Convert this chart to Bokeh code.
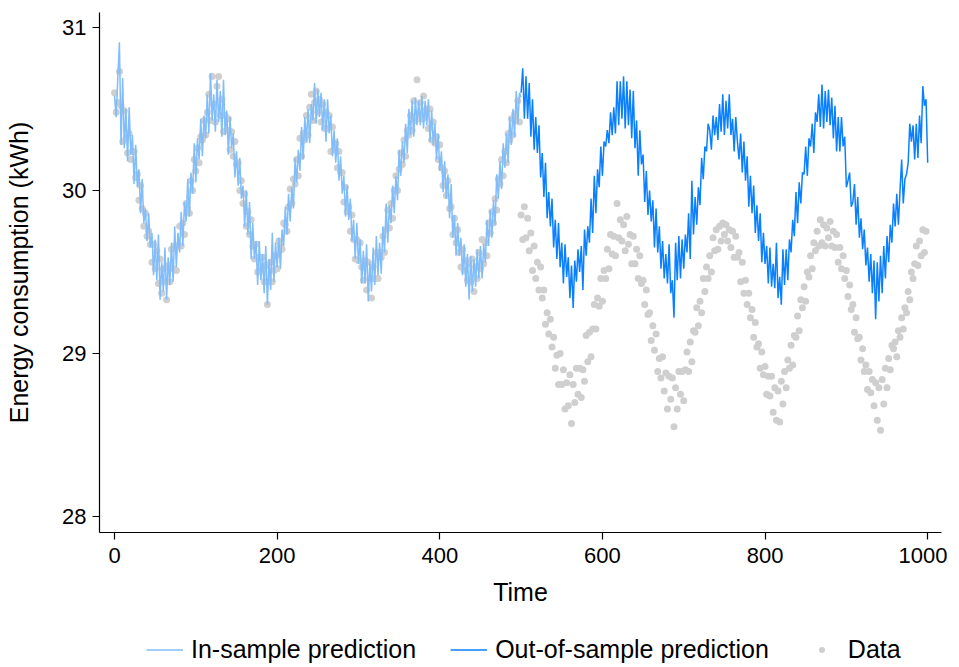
from bokeh.plotting import figure
from bokeh.layouts import column
from bokeh.models import Range1d, FixedTicker, Legend, LegendItem, ColumnDataSource
from bokeh.embed import file_html
from bokeh.resources import INLINE

# ---------------- data ----------------
x_ticks = [0, 200, 400, 600, 800, 1000]
y_ticks = [28, 29, 30, 31]

t_in = list(range(0, 501, 2))
pred_in = [
    30.58, 30.45, 30.69, 30.91, 30.28, 30.69, 30.26, 30.50, 30.18, 30.51,
    30.22, 30.34, 30.04, 30.28, 30.02, 30.13, 29.86, 30.07, 29.80, 29.89,
    29.69, 29.86, 29.65, 29.74, 29.48, 29.70, 29.45, 29.73, 29.33, 29.56,
    29.38, 29.65, 29.33, 29.59, 29.42, 29.68, 29.44, 29.78, 29.53, 29.74,
    29.62, 29.87, 29.66, 29.93, 29.81, 30.07, 29.84, 30.11, 29.98, 30.29,
    30.05, 30.32, 30.19, 30.44, 30.21, 30.46, 30.32, 30.59, 30.35, 30.72,
    30.43, 30.59, 30.36,
    30.68, 30.42, 30.61, 30.33, 30.68, 30.34, 30.49, 30.22, 30.45, 30.26,
    30.35, 30.08, 30.24, 30.03, 30.20, 29.95, 30.03, 29.78, 30.00, 29.73,
    29.93, 29.58, 29.80, 29.58, 29.69, 29.42, 29.69, 29.45, 29.61, 29.37,
    29.66, 29.30, 29.58, 29.39, 29.74, 29.44, 29.68, 29.53, 29.71, 29.52,
    29.76, 29.66, 29.90, 29.73, 29.98, 29.81, 30.02, 29.89, 30.20, 30.05,
    30.25, 30.12, 30.39, 30.19, 30.45, 30.30, 30.50, 30.29, 30.53, 30.43,
    30.66, 30.41, 30.62,
    30.45, 30.60, 30.37, 30.56, 30.30, 30.56, 30.35, 30.46, 30.21, 30.37,
    30.17, 30.32, 30.06, 30.21, 29.98, 30.09, 29.84, 30.03, 29.82, 29.95,
    29.69, 29.82, 29.58, 29.80, 29.55, 29.70, 29.43, 29.63, 29.43, 29.67,
    29.32, 29.56, 29.38, 29.65, 29.42, 29.72, 29.48, 29.68, 29.49, 29.78,
    29.62, 29.92, 29.68, 29.91, 29.80, 30.03, 29.86, 30.09, 29.94, 30.25,
    30.09, 30.30, 30.17, 30.41, 30.23, 30.50, 30.34, 30.55, 30.33, 30.57,
    30.40, 30.55, 30.40,
    30.58, 30.38, 30.55, 30.40, 30.56, 30.30, 30.49, 30.28, 30.41, 30.19,
    30.35, 30.12, 30.24, 29.99, 30.18, 29.95, 30.10, 29.83, 30.04, 29.71,
    29.85, 29.60, 29.80, 29.60, 29.71, 29.48, 29.67, 29.41, 29.61, 29.33,
    29.60, 29.38, 29.58, 29.41, 29.64, 29.46, 29.66, 29.46, 29.67, 29.56,
    29.82, 29.66, 29.88, 29.71, 29.94, 29.79, 30.10, 29.95, 30.18, 30.01,
    30.29, 30.14, 30.35, 30.17, 30.45, 30.28, 30.50, 30.33, 30.61, 30.41,
    30.60, 30.57,
]

t_out = list(range(500, 1001, 2))
pred_out = [
    30.60, 30.75, 30.44, 30.70, 30.44, 30.66, 30.33, 30.56, 30.25, 30.45,
    30.23, 30.40, 30.08, 30.23, 29.96, 30.17, 29.83, 29.99, 29.78, 29.95,
    29.65, 29.82, 29.58, 29.80, 29.53, 29.68, 29.43, 29.67, 29.47, 29.59,
    29.34, 29.54, 29.28, 29.57, 29.44, 29.64, 29.50, 29.66, 29.39, 29.76,
    29.60, 29.78, 29.68, 29.95, 29.74, 30.09, 29.86, 30.13, 30.02, 30.27,
    30.09, 30.30, 30.27, 30.37, 30.29, 30.48, 30.34, 30.51, 30.35, 30.67,
    30.40, 30.67, 30.44,
    30.70, 30.38, 30.67, 30.40, 30.62, 30.32, 30.61, 30.26, 30.43, 30.09,
    30.37, 30.16, 30.22, 29.93, 30.12, 29.85, 30.00, 29.81, 29.94, 29.65,
    29.89, 29.62, 29.78, 29.52, 29.69, 29.46, 29.61, 29.43, 29.67, 29.37,
    29.45, 29.22, 29.68, 29.45, 29.72, 29.46, 29.70, 29.52, 29.73, 29.62,
    29.86, 29.58, 30.06, 29.73, 29.96, 29.79, 30.02, 29.91, 30.20, 30.07,
    30.27, 30.24, 30.41, 30.37, 30.25, 30.46, 30.34, 30.45, 30.31, 30.53,
    30.36, 30.59, 30.34,
    30.55, 30.38, 30.59, 30.34, 30.44, 30.24, 30.45, 30.30, 30.19, 30.35,
    30.11, 30.30, 30.06, 30.21, 29.90, 30.09, 29.86, 30.03, 29.74, 29.91,
    29.69, 29.86, 29.56, 29.74, 29.55, 29.66, 29.43, 29.65, 29.41, 29.55,
    29.40, 29.68, 29.34, 29.47, 29.30, 29.64, 29.42, 29.64, 29.45, 29.70,
    29.62, 29.82, 29.72, 29.99, 29.80, 30.05, 29.92, 30.11, 30.10, 30.27,
    30.09, 30.32, 30.27, 30.41, 30.23, 30.48, 30.42, 30.59, 30.39, 30.65,
    30.38, 30.61, 30.42,
    30.62, 30.40, 30.57, 30.32, 30.52, 30.24, 30.45, 30.24, 30.45, 30.27,
    30.33, 30.02, 30.06, 30.11, 29.90, 29.93, 30.04, 29.79, 29.96, 29.71,
    29.83, 29.64, 29.76, 29.54, 29.65, 29.44, 29.61, 29.37, 29.57, 29.21,
    29.56, 29.32, 29.60, 29.37, 29.66, 29.46, 29.72, 29.56, 29.79, 29.68,
    29.92, 29.78, 29.98, 29.79, 30.00, 30.19, 29.92, 30.07, 30.10, 30.17,
    30.41, 30.30, 30.40, 30.19, 30.41, 30.20, 30.46, 30.29, 30.64, 30.52,
    30.56, 30.17,
]

t_data = list(range(0, 1000, 2))
data_vals = [
    # in-sample period
    30.60, 30.48, 30.54, 30.73, 30.52, 30.30, 30.49, 30.32, 30.23, 30.35,
    30.19, 30.24, 30.24, 30.08, 30.10, 29.94, 30.03, 29.89, 29.78, 29.86,
    29.72, 29.75, 29.67, 29.56, 29.67, 29.52, 29.63, 29.43, 29.58, 29.37,
    29.52, 29.44, 29.33, 29.54, 29.44, 29.64, 29.52, 29.66, 29.51, 29.66,
    29.78, 29.66, 29.80, 29.73, 29.92, 29.89, 29.86, 30.06, 30.00, 30.19,
    30.12, 30.26, 30.17, 30.33, 30.31, 30.43, 30.34, 30.48, 30.59, 30.43,
    30.70, 30.53, 30.42,
    30.64, 30.70, 30.46, 30.56, 30.36, 30.46, 30.37, 30.44, 30.25, 30.36,
    30.21, 30.30, 30.16, 30.17, 30.00, 30.06, 29.92, 29.98, 29.78, 29.87,
    29.73, 29.82, 29.66, 29.58, 29.67, 29.50, 29.59, 29.51, 29.59, 29.44,
    29.54, 29.30, 29.44, 29.56, 29.44, 29.51, 29.60, 29.52, 29.69, 29.66,
    29.64, 29.80, 29.79, 29.75, 29.90, 30.01, 29.92, 30.07, 30.04, 30.19,
    30.09, 30.32, 30.21, 30.35, 30.31, 30.46, 30.34, 30.51, 30.59, 30.43,
    30.54, 30.61, 30.48,
    30.56, 30.42, 30.53, 30.38, 30.48, 30.38, 30.46, 30.24, 30.39, 30.25,
    30.29, 30.14, 30.24, 30.11, 30.11, 29.93, 30.02, 29.87, 29.90, 29.75,
    29.85, 29.70, 29.58, 29.70, 29.57, 29.68, 29.53, 29.45, 29.57, 29.39,
    29.56, 29.46, 29.34, 29.53, 29.46, 29.62, 29.46, 29.62, 29.59, 29.72,
    29.62, 29.76, 29.88, 29.77, 29.92, 29.83, 30.00, 30.09, 30.00, 30.13,
    30.23, 30.16, 30.31, 30.21, 30.37, 30.34, 30.46, 30.37, 30.55, 30.43,
    30.68, 30.47, 30.54,
    30.44, 30.58, 30.45, 30.50, 30.38, 30.50, 30.31, 30.42, 30.29, 30.33,
    30.19, 30.28, 30.14, 30.03, 30.12, 29.97, 30.06, 29.89, 29.90, 29.73,
    29.83, 29.68, 29.76, 29.62, 29.53, 29.64, 29.51, 29.57, 29.45, 29.55,
    29.44, 29.58, 29.38, 29.53, 29.46, 29.62, 29.52, 29.70, 29.55, 29.68,
    29.60, 29.80, 29.74, 29.87, 29.80, 29.95, 29.88, 30.07, 30.04, 30.19,
    30.09, 30.24, 30.17, 30.35, 30.31, 30.44, 30.34, 30.47, 30.43, 30.55,
    30.42,
    # out-of-sample period
    29.85, 29.70, 29.90, 29.71, 29.83, 29.63, 29.74, 29.51, 29.66, 29.46,
    29.56, 29.39, 29.53, 29.34, 29.39, 29.18, 29.25, 29.12, 29.21, 29.04,
    29.10, 28.91, 28.99, 28.81, 29.00, 28.81, 28.90, 28.66, 28.82, 28.68,
    28.87, 28.57, 28.81, 28.70, 28.91, 28.75, 28.91, 28.73, 28.90, 28.83,
    29.11, 28.95, 29.13, 28.98, 29.15, 29.30, 29.15, 29.34, 29.29, 29.46,
    29.32, 29.51, 29.46, 29.64, 29.52, 29.73, 29.61, 29.72, 29.60, 29.92,
    29.71, 29.82, 29.69,
    29.79, 29.63, 29.84, 29.67, 29.73, 29.55, 29.72, 29.55, 29.64, 29.46,
    29.60, 29.43, 29.45, 29.30, 29.39, 29.24, 29.25, 29.08, 29.17, 29.02,
    29.12, 28.89, 28.97, 28.85, 28.98, 28.77, 28.88, 28.66, 28.86, 28.72,
    28.85, 28.55, 28.79, 28.66, 28.89, 28.75, 28.89, 28.71, 28.90, 29.01,
    28.89, 29.07, 28.95, 29.14, 29.13, 29.28, 29.17, 29.32, 29.25, 29.46,
    29.38, 29.53, 29.46, 29.60, 29.50, 29.71, 29.63, 29.76, 29.64, 29.78,
    29.69, 29.80, 29.73,
    29.79, 29.69, 29.76, 29.65, 29.75, 29.59, 29.72, 29.59, 29.62, 29.44,
    29.56, 29.37, 29.45, 29.30, 29.37, 29.22, 29.27, 29.10, 29.19, 29.04,
    29.06, 28.91, 29.01, 28.87, 28.92, 28.75, 28.86, 28.74, 28.86, 28.64,
    28.79, 28.59, 28.77, 28.58, 28.83, 28.69, 28.89, 28.79, 28.96, 28.91,
    29.05, 28.93, 29.11, 29.10, 29.23, 29.14, 29.33, 29.28, 29.41, 29.32,
    29.50, 29.47, 29.60, 29.52, 29.68, 29.63, 29.75, 29.66, 29.82, 29.68,
    29.79, 29.66, 29.77,
    29.71, 29.81, 29.66, 29.75, 29.65, 29.73, 29.56, 29.65, 29.52, 29.60,
    29.46, 29.51, 29.35, 29.42, 29.27, 29.30, 29.13, 29.22, 29.09, 29.10,
    28.96, 29.03, 28.89, 28.93, 28.78, 28.89, 28.76, 28.84, 28.68, 28.82,
    28.59, 28.79, 28.53, 28.84, 28.69, 28.91, 28.79, 28.97, 28.90, 29.05,
    29.03, 29.07, 28.98, 29.14, 29.10, 29.22, 29.15, 29.28, 29.25, 29.38,
    29.33, 29.50, 29.46, 29.55, 29.66, 29.54, 29.69, 29.60, 29.76, 29.62,
    29.75,
]

legend_labels = ["In-sample prediction", "Out-of-sample prediction", "Data"]

assert len(t_in) == len(pred_in), (len(t_in), len(pred_in))
assert len(t_out) == len(pred_out), (len(t_out), len(pred_out))
assert len(t_data) == len(data_vals), (len(t_data), len(data_vals))

# ---------------- styling ----------------
FONT = "Liberation Sans"
C_IN = "#80BDFA"
C_OUT = "#0A80FF"
C_DATA = "#CFCFCF"

p = figure(frame_width=842, frame_height=520, output_backend="svg",
           toolbar_location=None,
           x_range=Range1d(-18.5, 1017.0), y_range=Range1d(27.902, 31.092),
           min_border_left=99, min_border_right=6, min_border_top=12,
           min_border_bottom=95)
p.outline_line_color = None
p.xgrid.visible = False
p.ygrid.visible = False
p.background_fill_color = "white"
p.border_fill_color = "white"

src_data = ColumnDataSource(dict(t=t_data, v=data_vals))
src_in = ColumnDataSource(dict(t=t_in, v=pred_in))
src_out = ColumnDataSource(dict(t=t_out, v=pred_out))

p.scatter("t", "v", source=src_data, size=7, fill_color=C_DATA, line_color=None)
p.line("t", "v", source=src_in, line_color=C_IN, line_width=1.5)
p.line("t", "v", source=src_out, line_color=C_OUT, line_width=1.5)

for ax in (p.xaxis[0], p.yaxis[0]):
    ax.axis_line_color = "black"
    ax.axis_line_width = 1.2
    ax.major_tick_line_color = "black"
    ax.major_tick_line_width = 1.2
    ax.major_tick_out = 7
    ax.major_tick_in = 0
    ax.minor_tick_line_color = None
    ax.major_label_text_font = FONT
    ax.major_label_text_font_size = "22px"
    ax.major_label_text_color = "black"
    ax.axis_label_text_font = FONT
    ax.axis_label_text_font_size = "25px"
    ax.axis_label_text_font_style = "normal"
    ax.axis_label_text_color = "black"

p.xaxis.major_label_standoff = 8
p.yaxis.major_label_standoff = 6
p.xaxis.ticker = FixedTicker(ticks=x_ticks)
p.yaxis.ticker = FixedTicker(ticks=y_ticks)
p.xaxis.axis_label = "Time"
p.yaxis.axis_label = "Energy consumption (kWh)"
p.xaxis.axis_label_standoff = 12
p.yaxis.axis_label_standoff = 26

# ---------------- legend strip (separate figure under the plot) ----------------
lg = figure(width=943, height=38, output_backend="svg", toolbar_location=None,
            x_range=Range1d(0, 1), y_range=Range1d(0, 1),
            x_axis_type=None, y_axis_type=None,
            min_border_left=0, min_border_right=0, min_border_top=0,
            min_border_bottom=0)
lg.outline_line_color = None
lg.background_fill_color = "white"
lg.border_fill_color = "white"

nan = float("nan")
k_in = lg.line(x=[nan], y=[nan], line_color=C_IN, line_width=1.5)
k_out = lg.line(x=[nan], y=[nan], line_color=C_OUT, line_width=1.5)
k_data = lg.scatter(x=[nan], y=[nan], size=7, fill_color=C_DATA, line_color=None)

legend = Legend(items=[
    LegendItem(label=legend_labels[0], renderers=[k_in]),
    LegendItem(label=legend_labels[1], renderers=[k_out]),
    LegendItem(label=legend_labels[2], renderers=[k_data]),
], orientation="horizontal", location=(47, 1))
legend.label_text_font = FONT
legend.label_text_font_size = "25px"
legend.label_text_color = "black"
legend.label_height = 15
legend.glyph_width = 37
legend.glyph_height = 15
legend.label_standoff = 8
legend.spacing = 34
legend.padding = 0
legend.margin = 0
legend.border_line_color = None
legend.background_fill_alpha = 0
lg.add_layout(legend, "center")

layout = column(p, lg, spacing=0)
open("out.html", "w").write(file_html(layout, INLINE))
